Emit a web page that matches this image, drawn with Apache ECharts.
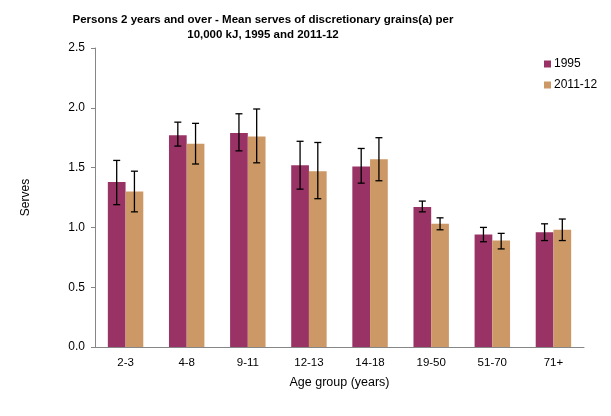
<!DOCTYPE html>
<html><head><meta charset="utf-8">
<script src="https://cdn.jsdelivr.net/npm/echarts@6/dist/echarts.min.js"></script>
<style>html,body{margin:0;padding:0;background:#fff}#c{width:611px;height:416px}</style>
</head><body><div id="c"></div>
<script>
const categories = ['2-3','4-8','9-11','12-13','14-18','19-50','51-70','71+'];
const mean1995 = [1.38, 1.77, 1.79, 1.52, 1.51, 1.17, 0.94, 0.96];
const low1995  = [1.19, 1.68, 1.64, 1.32, 1.37, 1.13, 0.88, 0.89];
const high1995 = [1.56, 1.88, 1.95, 1.72, 1.66, 1.22, 1.00, 1.03];
const mean2011 = [1.30, 1.70, 1.76, 1.47, 1.57, 1.03, 0.89, 0.98];
const low2011  = [1.13, 1.53, 1.54, 1.24, 1.39, 0.98, 0.82, 0.89];
const high2011 = [1.47, 1.87, 1.99, 1.71, 1.75, 1.08, 0.95, 1.07];
const yTicks = [0, 0.5, 1.0, 1.5, 2.0, 2.5];

const FONT = 'Liberation Sans, Arial, sans-serif';
const GAP = 0.42;

function errData(lo, hi) { return categories.map((c, i) => [i, lo[i], hi[i]]); }
function errRender(side) {
  return function (params, api) {
    const idx = api.value(0);
    const band = api.size([1, 0])[0];
    const barW = band * (1 - GAP) / 2;
    const lo = api.coord([idx, api.value(1)]);
    const hi = api.coord([idx, api.value(2)]);
    const x = lo[0] + side * barW / 2;
    const cap = 3.5;
    const style = { stroke: '#000', lineWidth: 1.3 };
    return { type: 'group', children: [
      { type: 'line', shape: { x1: x, y1: lo[1], x2: x, y2: hi[1] }, style },
      { type: 'line', shape: { x1: x - cap, y1: lo[1], x2: x + cap, y2: lo[1] }, style },
      { type: 'line', shape: { x1: x - cap, y1: hi[1], x2: x + cap, y2: hi[1] }, style }
    ]};
  };
}

const chart = echarts.init(document.getElementById('c'));
chart.setOption({
  animation: false,
  title: {
    text: 'Persons 2 years and over - Mean serves of discretionary grains(a) per\n10,000 kJ, 1995 and 2011-12',
    left: 258, top: 8, textAlign: 'center',
    textStyle: { fontFamily: FONT, fontSize: 11.5, fontWeight: 'bold', color: '#000', lineHeight: 14.5 }
  },
  legend: {
    orient: 'vertical', left: 539, top: 53, itemWidth: 7, itemHeight: 7, itemGap: 9,
    icon: 'rect',
    textStyle: { fontFamily: FONT, fontSize: 12, color: '#000', padding: [0, 0, 0, -2] },
    data: ['1995', '2011-12']
  },
  grid: { left: 95, right: 27, top: 48, bottom: 69 },
  xAxis: {
    type: 'category', data: categories,
    name: 'Age group (years)', nameLocation: 'middle', nameGap: 29,
    nameTextStyle: { fontFamily: FONT, fontSize: 12.5, color: '#000' },
    axisLine: { lineStyle: { color: '#868686' } },
    axisTick: { length: 5, lineStyle: { color: '#868686' } },
    axisLabel: { fontFamily: FONT, fontSize: 11.5, color: '#000', margin: 10 }
  },
  yAxis: {
    type: 'value', min: yTicks[0], max: yTicks[yTicks.length - 1], interval: 0.5,
    name: 'Serves', nameLocation: 'middle', nameGap: 63,
    nameTextStyle: { fontFamily: FONT, fontSize: 12, color: '#000' },
    axisLine: { show: true, lineStyle: { color: '#868686' } },
    axisTick: { show: true, length: 4, lineStyle: { color: '#868686' } },
    splitLine: { show: false },
    axisLabel: { fontFamily: FONT, fontSize: 12, color: '#000', margin: 10, formatter: v => v.toFixed(1) }
  },
  series: [
    { name: '1995', type: 'bar', data: mean1995, barGap: '0%', barCategoryGap: (GAP * 100) + '%', itemStyle: { color: '#993366' } },
    { name: '2011-12', type: 'bar', data: mean2011, itemStyle: { color: '#CC9966' } },
    { type: 'custom', renderItem: errRender(-1), data: errData(low1995, high1995), z: 10, silent: true },
    { type: 'custom', renderItem: errRender(1), data: errData(low2011, high2011), z: 10, silent: true }
  ]
});
</script></body></html>
